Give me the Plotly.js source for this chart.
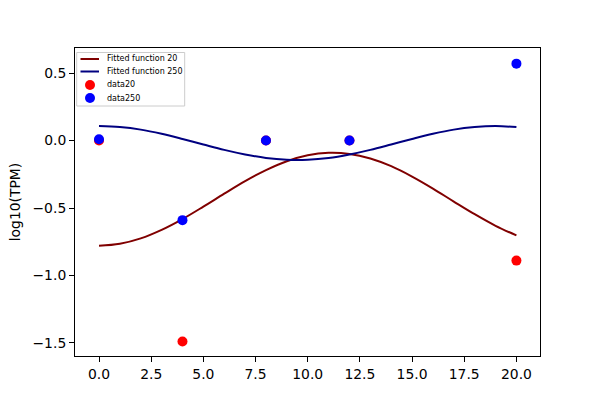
<!DOCTYPE html>
<html>
<head>
<meta charset="utf-8">
<script src="https://cdn.plot.ly/plotly-3.0.1.min.js"></script>
<style>
  html, body { margin: 0; padding: 0; background: #fff; }
  #plot { width: 600px; height: 400px; }
</style>
</head>
<body>
<div id="plot"></div>
<script>
const timePoints = [0, 4, 8, 12, 20];
const data20  = [0.0, -1.49, 0.0, 0.0, -0.89];
const data250 = [0.01, -0.59, 0.0, 0.0, 0.57];

// Fitted curves, sampled at whole hours.
const fitX = [0, 1, 2, 3, 4, 5, 6, 7, 8, 9, 10, 11, 12, 13, 14, 15, 16, 17, 18, 19, 20];
const fit20 = [-0.780, -0.765, -0.725, -0.662, -0.582, -0.490, -0.394, -0.301, -0.219, -0.153,
               -0.109, -0.091, -0.099, -0.133, -0.190, -0.267, -0.356, -0.452, -0.546, -0.632, -0.703];
const fit250 = [0.107, 0.100, 0.081, 0.050, 0.012, -0.029, -0.069, -0.103, -0.129, -0.142,
                -0.142, -0.129, -0.103, -0.069, -0.029, 0.012, 0.050, 0.081, 0.100, 0.107, 0.100];

const FONT = "DejaVu Sans, sans-serif";
const COL_FIT20 = "#800000", COL_FIT250 = "#000080";
const COL_D20 = "#ff0000",   COL_D250 = "#0000ff";

const traces = [
  {
    type: "scatter", mode: "lines", name: "Fitted function 20",
    x: fitX, y: fit20,
    line: { color: COL_FIT20, width: 2, shape: "spline" },
  },
  {
    type: "scatter", mode: "lines", name: "Fitted function 250",
    x: fitX, y: fit250,
    line: { color: COL_FIT250, width: 2, shape: "spline" },
  },
  {
    type: "scatter", mode: "markers", name: "data20",
    x: timePoints, y: data20,
    marker: { color: COL_D20, size: 10 },
  },
  {
    type: "scatter", mode: "markers", name: "data250",
    x: timePoints, y: data250,
    marker: { color: COL_D250, size: 10 },
  },
];

// Plotly's legend rows can't get as tight as matplotlib's,
// so the legend box is drawn by hand with shapes + annotations.
const M = { l: 75, r: 60, t: 48, b: 44 };
const W = 600, H = 400;
const pw = W - M.l - M.r, ph = H - M.t - M.b;
const px = v => (v - M.l) / pw;
const py = v => 1 - (v - M.t) / ph;

const shapes = [{
  type: "rect", xref: "paper", yref: "paper", layer: "above",
  x0: px(76.7), x1: px(184.7), y0: py(52.5), y1: py(106),
  fillcolor: "rgba(255,255,255,0.8)", line: { color: "#cccccc", width: 1 },
}];
const annotations = [];
const rowY = [59, 71.5, 85, 98];
traces.forEach((t, i) => {
  const y = py(rowY[i]);
  if (t.mode === "lines") {
    shapes.push({
      type: "line", xref: "paper", yref: "paper", layer: "above",
      x0: px(80.5), x1: px(99), y0: y, y1: y,
      line: { color: t.line.color, width: 2 },
    });
  } else {
    shapes.push({
      type: "circle", xref: "paper", yref: "paper", layer: "above",
      xsizemode: "pixel", ysizemode: "pixel",
      xanchor: px(90), yanchor: y,
      x0: -5, x1: 5, y0: -5, y1: 5,
      fillcolor: t.marker.color, line: { width: 0 },
    });
  }
  annotations.push({
    xref: "paper", yref: "paper", x: px(105), y: y,
    xanchor: "left", yanchor: "middle", showarrow: false,
    text: t.name, font: { family: FONT, size: 8, color: "#000" },
  });
});

const axisCommon = {
  showgrid: false,
  zeroline: false,
  showline: true,
  mirror: true,
  linecolor: "#000",
  linewidth: 1,
  ticks: "outside",
  ticklen: 5,
  tickwidth: 1,
  tickcolor: "#000",
  tickfont: { family: FONT, size: 13.9, color: "#000" },
  tickformat: ".1f",
};

const layout = {
  width: W, height: H,
  paper_bgcolor: "#fff",
  plot_bgcolor: "#fff",
  font: { family: FONT, color: "#000" },
  margin: M,
  xaxis: Object.assign({}, axisCommon, {
    range: [-1.15, 21.13],
    dtick: 2.5, tick0: 0,
  }),
  yaxis: Object.assign({}, axisCommon, {
    range: [-1.597, 0.686],
    dtick: 0.5, tick0: 0,
    title: { text: "log10(TPM)", font: { family: FONT, size: 13.9, color: "#000" }, standoff: 8 },
  }),
  showlegend: false,
  shapes: shapes,
  annotations: annotations,
};

Plotly.newPlot("plot", traces, layout, { displayModeBar: false, staticPlot: true });
</script>
</body>
</html>
